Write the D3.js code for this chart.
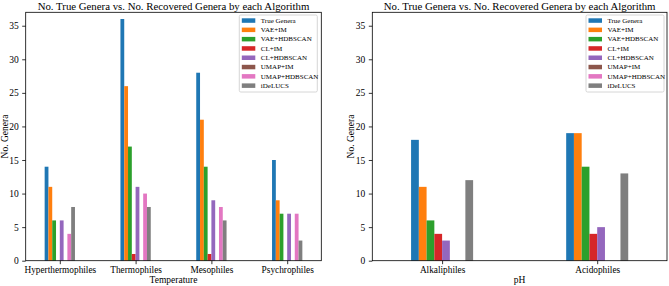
<!DOCTYPE html>
<html>
<head>
<meta charset="utf-8">
<script src="https://cdn.jsdelivr.net/npm/d3@7"></script>
<style>
  html, body { margin: 0; padding: 0; background: #fff; }
  svg { display: block; }
  text { font-family: "Liberation Serif", "DejaVu Serif", serif; fill: #000; }
</style>
</head>
<body>
<svg id="chart" width="669" height="286"></svg>
<script>
const algorithms = ["True Genera", "VAE+IM", "VAE+HDBSCAN", "CL+IM", "CL+HDBSCAN", "UMAP+IM", "UMAP+HDBSCAN", "iDeLUCS"];
const colors = ["#1f77b4", "#ff7f0e", "#2ca02c", "#d62728", "#9467bd", "#8c564b", "#e377c2", "#7f7f7f"];

const tempCategories = ["Hyperthermophiles", "Thermophiles", "Mesophiles", "Psychrophiles"];
// values per algorithm, one entry per temperature category
const tempTrue        = [14, 36, 28, 15];
const tempVaeIm       = [11, 26, 21, 9];
const tempVaeHdbscan  = [6, 17, 14, 7];
const tempClIm        = [0, 1, 1, 0];
const tempClHdbscan   = [6, 11, 9, 7];
const tempUmapIm      = [0, 0, 0, 0];
const tempUmapHdbscan = [4, 10, 8, 7];
const tempIdelucs     = [8, 8, 6, 3];

const phCategories = ["Alkaliphiles", "Acidophiles"];
const phTrue        = [18, 19];
const phVaeIm       = [11, 19];
const phVaeHdbscan  = [6, 14];
const phClIm        = [4, 4];
const phClHdbscan   = [3, 5];
const phUmapIm      = [0, 0];
const phUmapHdbscan = [0, 0];
const phIdelucs     = [12, 13];

const yTicks = [0, 5, 10, 15, 20, 25, 30, 35];
const titleText = "No. True Genera vs. No. Recovered Genera by each Algorithm";

const svg = d3.select("#chart");

function drawPanel(opt) {
  const { left, right, top, bottom, categories, series, xLabel, legendX } = opt;
  const g = svg.append("g");
  const n = categories.length;
  const x = d3.scaleLinear().domain([-0.45, n - 1 + 0.45]).range([left, right]);
  const y = d3.scaleLinear().domain([0, 37]).range([bottom, top]);
  const groupW = 0.4;
  const bw = groupW / series.length;

  // bars
  series.forEach((vals, si) => {
    g.append("g").selectAll("rect").data(vals).join("rect")
      .attr("x", (d, i) => x(i - groupW / 2 + si * bw))
      .attr("width", x(bw) - x(0))
      .attr("y", d => y(d))
      .attr("height", d => y(0) - y(d))
      .attr("fill", colors[si]);
  });

  // axes
  const yAxis = d3.axisLeft(y).tickValues(yTicks).tickSize(3.5).tickPadding(3.5);
  const ga = g.append("g").attr("transform", `translate(${left},0)`).call(yAxis);
  ga.select(".domain").remove();
  ga.selectAll("text").attr("font-size", 9.5).style("font-family", "Liberation Serif");
  ga.selectAll("line").attr("stroke", "#000").attr("stroke-width", 0.8);

  const xAxis = d3.axisBottom(x).tickValues(d3.range(n)).tickFormat(i => categories[i]).tickSize(3.5).tickPadding(2);
  const gx = g.append("g").attr("transform", `translate(0,${bottom})`).call(xAxis);
  gx.select(".domain").remove();
  gx.selectAll("text").attr("font-size", 9.3).style("font-family", "Liberation Serif");
  gx.selectAll("line").attr("stroke", "#000").attr("stroke-width", 0.8);

  // frame
  g.append("rect").attr("x", left).attr("y", top).attr("width", right - left).attr("height", bottom - top)
    .attr("fill", "none").attr("stroke", "#000").attr("stroke-width", 0.8);

  // title
  g.append("text").attr("x", (left + right) / 2).attr("y", 9.5).attr("text-anchor", "middle")
    .attr("font-size", 10.8).text(titleText);

  // axis labels
  g.append("text").attr("x", (left + right) / 2).attr("y", 283).attr("text-anchor", "middle")
    .attr("font-size", 9.5).text(xLabel);
  g.append("text").attr("transform", `translate(${left - 18},${(top + bottom) / 2}) rotate(-90)`)
    .attr("text-anchor", "middle").attr("font-size", 9.5).text("No. Genera");

  // legend
  const lg = g.append("g").attr("transform", `translate(${legendX},15)`);
  lg.append("rect").attr("x", 0).attr("y", 0).attr("width", 78).attr("height", 77)
    .attr("rx", 1.5).attr("fill", "#fff").attr("fill-opacity", 0.8).attr("stroke", "#ccc").attr("stroke-width", 0.8);
  algorithms.forEach((name, i) => {
    const yy = 5.3 + i * 9.3;
    lg.append("rect").attr("x", 2.5).attr("y", yy - 2).attr("width", 13.5).attr("height", 4.5).attr("fill", colors[i]);
    lg.append("text").attr("x", 21.5).attr("y", yy + 2.4).attr("font-size", 7.0).text(name);
  });
}

drawPanel({
  left: 25.7, right: 321.3, top: 12.3, bottom: 260.7,
  categories: tempCategories,
  series: [tempTrue, tempVaeIm, tempVaeHdbscan, tempClIm, tempClHdbscan, tempUmapIm, tempUmapHdbscan, tempIdelucs],
  xLabel: "Temperature", legendX: 239.3
});
drawPanel({
  left: 372.3, right: 667, top: 12.3, bottom: 260.7,
  categories: phCategories,
  series: [phTrue, phVaeIm, phVaeHdbscan, phClIm, phClHdbscan, phUmapIm, phUmapHdbscan, phIdelucs],
  xLabel: "pH", legendX: 586
});
</script>
</body>
</html>
